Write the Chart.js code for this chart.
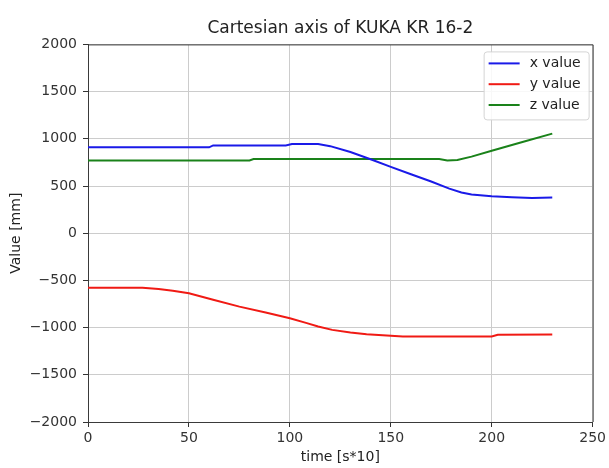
<!DOCTYPE html>
<html>
<head>
<meta charset="utf-8">
<title>Cartesian axis of KUKA KR 16-2</title>
<script src="https://cdn.jsdelivr.net/npm/chart.js@4.4.1/dist/chart.umd.min.js"></script>
<style>
  html, body { margin: 0; padding: 0; background: #fff; }
</style>
</head>
<body>
<canvas id="kukaChart" width="609" height="468"></canvas>
<script>
// x value (blue)
const xTime = [0, 60, 62, 98, 101, 114, 120, 130, 141, 150, 160, 170, 179, 185, 190, 200, 210, 220, 230];
const xVal  = [910, 910, 930, 930, 945, 945, 922, 860, 776, 703, 625, 548, 472, 432, 410, 391, 380, 373, 377];

// y value (red)
const yTime = [0, 27, 35, 42, 50, 62, 75, 88, 100, 108, 114, 121, 130, 138, 146, 156, 200, 203, 230];
const yVal  = [-578, -578, -590, -610, -637, -705, -778, -840, -901, -950, -989, -1024, -1052, -1070, -1082, -1095, -1095, -1077, -1072];

// z value (green)
const zTime = [0, 80, 82, 174, 178, 183, 190, 200, 210, 217, 230];
const zVal  = [770, 770, 785, 785, 770, 775, 811, 874, 935, 976, 1055];

const seriesNames = ['x value', 'y value', 'z value'];
const seriesColors = ['#1a1ae8', '#f01a14', '#1a821a'];

const xTicks = { min: 0, max: 250, step: 50 };
const yTicks = { min: -2000, max: 2000, step: 500 };

const FONT = 'DejaVu Sans';

function toPoints(ts, vs) {
    return ts.map((t, i) => ({ x: t, y: vs[i] }));
}

function fmtTick(v) {
    return v < 0 ? '\u2212' + Math.abs(v) : String(v);
}

// top/right spines and the boxed legend in the upper right corner
const frameLegend = {
    id: 'frameLegend',
    afterDraw(chart) {
        const { ctx, chartArea: a } = chart;
        ctx.save();
        ctx.strokeStyle = '#3a3a3a';
        ctx.lineWidth = 1;
        ctx.beginPath();
        ctx.moveTo(a.left, a.top + 0.5);
        ctx.lineTo(a.right + 0.5, a.top + 0.5);
        ctx.lineTo(a.right + 0.5, a.bottom);
        ctx.stroke();

        const bw = 105, bh = 68;
        const bx = a.right - bw - 4, by = a.top + 7;
        ctx.beginPath();
        ctx.roundRect(bx + 0.5, by + 0.5, bw, bh, 3);
        ctx.fillStyle = 'rgba(255,255,255,0.85)';
        ctx.fill();
        ctx.strokeStyle = '#d4d4d4';
        ctx.stroke();

        ctx.font = '14px "' + FONT + '"';
        ctx.textBaseline = 'middle';
        ctx.textAlign = 'left';
        chart.data.datasets.forEach((ds, i) => {
            const cy = by + 12 + i * 20.8;
            ctx.strokeStyle = ds.borderColor;
            ctx.lineWidth = 2;
            ctx.beginPath();
            ctx.moveTo(bx + 5, cy);
            ctx.lineTo(bx + 36, cy);
            ctx.stroke();
            ctx.fillStyle = '#222';
            ctx.fillText(ds.label, bx + 46, cy);
        });
        ctx.restore();
    }
};

const seriesData = [toPoints(xTime, xVal), toPoints(yTime, yVal), toPoints(zTime, zVal)];

new Chart(document.getElementById('kukaChart').getContext('2d'), {
    type: 'line',
    data: {
        datasets: seriesData.map((pts, i) => ({
            label: seriesNames[i],
            data: pts,
            borderColor: seriesColors[i],
            backgroundColor: seriesColors[i],
            borderWidth: 2,
            pointRadius: 0,
            tension: 0,
            fill: false
        }))
    },
    options: {
        responsive: false,
        animation: false,
        devicePixelRatio: 1,
        layout: { padding: { left: 0, right: 15, top: 0, bottom: 0 } },
        plugins: {
            legend: { display: false },
            tooltip: { enabled: false },
            title: {
                display: true,
                text: 'Cartesian axis of KUKA KR 16-2',
                fullSize: false,
                color: '#222',
                font: { family: FONT, size: 17, weight: 'normal' },
                padding: { top: 18, bottom: 6 }
            }
        },
        scales: {
            x: {
                type: 'linear',
                min: xTicks.min,
                max: xTicks.max,
                afterFit(scale) { scale.height = 46; },
                ticks: {
                    stepSize: xTicks.step,
                    color: '#333',
                    padding: 3,
                    maxRotation: 0,
                    font: { family: FONT, size: 14 },
                    callback: fmtTick
                },
                grid: { color: '#cccccc', lineWidth: 1, tickLength: 5, tickColor: '#333' },
                border: { display: true, color: '#3a3a3a', width: 1 },
                title: {
                    display: true,
                    text: 'time [s*10]',
                    color: '#222',
                    font: { family: FONT, size: 14 },
                    padding: { top: 0, bottom: 2 }
                }
            },
            y: {
                type: 'linear',
                min: yTicks.min,
                max: yTicks.max,
                afterFit(scale) { scale.width = 88; },
                ticks: {
                    stepSize: yTicks.step,
                    color: '#333',
                    padding: 6,
                    font: { family: FONT, size: 14 },
                    callback: fmtTick
                },
                grid: { color: '#cccccc', lineWidth: 1, tickLength: 5, tickColor: '#333' },
                border: { display: true, color: '#3a3a3a', width: 1 },
                title: {
                    display: true,
                    text: 'Value [mm]',
                    color: '#222',
                    font: { family: FONT, size: 14 },
                    padding: { top: 8, bottom: 0 }
                }
            }
        }
    },
    plugins: [frameLegend]
});
</script>
</body>
</html>
